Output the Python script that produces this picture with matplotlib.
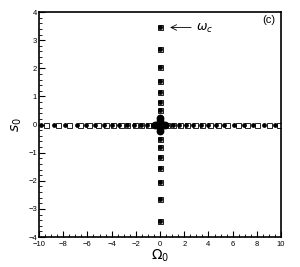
import numpy as np
import matplotlib
matplotlib.use("Agg")
import matplotlib.pyplot as plt
from matplotlib.ticker import MultipleLocator

# horizontal branch (s0 = 0)
dots_x = [-9.8, -8.8, -7.85, -6.9, -6.1, -5.35, -4.65, -4.0, -3.35, -2.75, -2.15, -1.6, -1.05, -0.55,
          0.55, 1.05, 1.6, 2.15, 2.75, 3.35, 4.0, 4.65, 5.3, 6.1, 6.9, 7.7, 8.6, 9.5]
squares_x = [-9.45, -8.45, -7.5, -6.6, -5.85, -5.15, -4.5, -3.9, -3.25, -2.7, -2.1, -1.55, -1.0, -0.55,
             0.55, 1.1, 1.65, 2.2, 2.85, 3.45, 4.1, 4.8, 5.55, 6.4, 7.2, 8.05, 9.0, 9.85]

# vertical branch (Omega0 = 0)
col_y = [-3.42, -2.66, -2.05, -1.56, -1.15, -0.8, -0.5, 0.5, 0.8, 1.15, 1.56, 2.05, 2.68, 3.45]

# cluster around origin
center_x = [0.0, 0.2, -0.2, 0.4, -0.4, 0.0, 0.0, 0.0, 0.0]
center_y = [0.0, 0.0, 0.0, 0.0, 0.0, 0.12, -0.12, 0.24, -0.24]

plt.rcParams['font.family'] = ['Liberation Sans', 'DejaVu Sans']
fig = plt.figure(figsize=(3.0, 2.67), dpi=100)
ax = fig.add_axes([0.13, 0.112, 0.807, 0.843])

ax.plot(squares_x, np.zeros(len(squares_x)), 's', ms=3.6, mfc='white', mec='black', mew=0.6)
ax.plot(np.zeros(len(col_y)), col_y, 's', ms=3.6, mfc='#bbbbbb', mec='black', mew=0.6)
ax.plot(dots_x, np.zeros(len(dots_x)), 'o', ms=2.4, color='black')
ax.plot(np.zeros(len(col_y)), col_y, 'o', ms=2.4, color='black')
ax.plot(center_x, center_y, 'o', ms=4.6, color='black')

ax.annotate('', xy=(0.6, 3.45), xytext=(2.8, 3.45),
            arrowprops=dict(arrowstyle='->', lw=0.6, color='black'))
ax.text(3.0, 3.42, r'$\omega_c$', fontsize=9, va='center', family='DejaVu Serif')
ax.text(9.5, 3.72, '(c)', fontsize=8, ha='right', va='center')

ax.set_xlim(-10, 10)
ax.set_ylim(-4, 4)
ax.xaxis.set_major_locator(MultipleLocator(2))
ax.xaxis.set_minor_locator(MultipleLocator(0.5))
ax.yaxis.set_major_locator(MultipleLocator(1))
ax.yaxis.set_minor_locator(MultipleLocator(0.2))
ax.tick_params(which='both', direction='in', top=False, right=False, labelsize=5.5)
ax.tick_params(axis='x', pad=2.5)
ax.tick_params(axis='y', pad=1.5)
ax.tick_params(which='major', length=4, width=0.8)
ax.tick_params(which='minor', length=2, width=0.6)
for s in ax.spines.values():
    s.set_linewidth(1.2)

ax.set_xlabel(r'$\Omega_0$', fontsize=10, labelpad=0)
ax.set_ylabel(r'$s_0$', fontsize=10, labelpad=3)

fig.savefig('out.png', dpi=100)
